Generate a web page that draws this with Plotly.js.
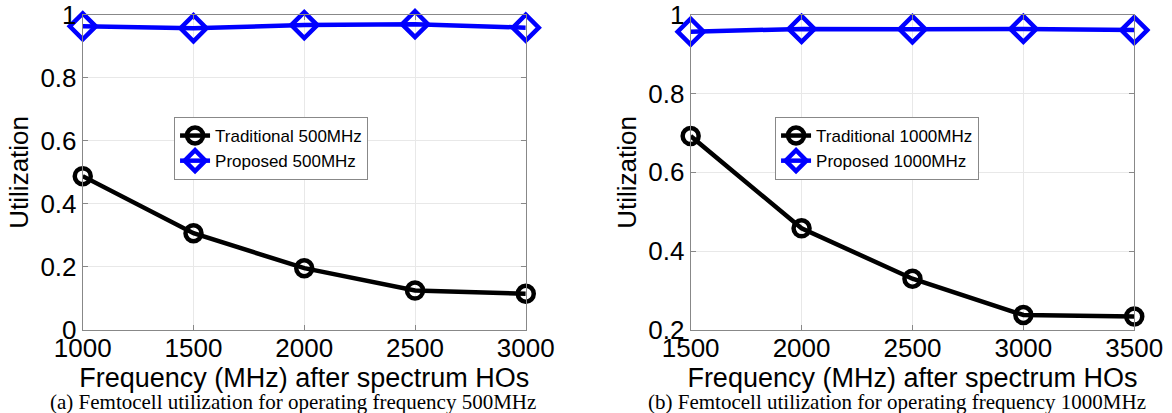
<!DOCTYPE html>
<html>
<head>
<meta charset="utf-8">
<script src="https://cdn.plot.ly/plotly-3.0.1.min.js"></script>
<style>
html,body{margin:0;padding:0;background:#fff;}
#chart{width:1172px;height:413px;}
</style>
</head>
<body>
<div id="chart"></div>
<script>
// Panel (a): operating frequency 500MHz
const freqA = [1000, 1500, 2000, 2500, 3000];
const traditionalA = [0.488, 0.307, 0.196, 0.125, 0.115];
const proposedA = [0.963, 0.957, 0.967, 0.970, 0.959];

// Panel (b): operating frequency 1000MHz
const freqB = [1500, 2000, 2500, 3000, 3500];
const traditionalB = [0.692, 0.458, 0.330, 0.238, 0.234];
const proposedB = [0.957, 0.964, 0.963, 0.964, 0.961];

// Tick labels
const yTicksA = [0, 0.2, 0.4, 0.6, 0.8, 1];
const yTickTextA = ["0", "0.2", "0.4", "0.6", "0.8", "1"];
const yTicksB = [0.2, 0.4, 0.6, 0.8, 1];
const yTickTextB = ["0.2", "0.4", "0.6", "0.8", "1"];

const namesA = ["Traditional 500MHz", "Proposed 500MHz"];
const namesB = ["Traditional 1000MHz", "Proposed 1000MHz"];
const xTitle = "Frequency (MHz) after spectrum HOs";
const yTitle = "Utilization";
const captionA = "(a) Femtocell utilization for operating frequency 500MHz";
const captionB = "(b) Femtocell utilization for operating frequency 1000MHz";

const SANS = "Liberation Sans, Arial, Helvetica, sans-serif";
const SERIF = "Liberation Serif, Times New Roman, serif";

function tradTrace(x, y, name, xa, ya, leg) {
  return {x: x, y: y, name: name, xaxis: xa, yaxis: ya, legend: leg,
    type: "scatter", mode: "lines+markers", cliponaxis: false,
    line: {color: "#000000", width: 4.5},
    marker: {symbol: "circle-open", size: 16, color: "#000000", line: {width: 4.5, color: "#000000"}}};
}
function propTrace(x, y, name, xa, ya, leg) {
  return {x: x, y: y, name: name, xaxis: xa, yaxis: ya, legend: leg,
    type: "scatter", mode: "lines+markers", cliponaxis: false,
    line: {color: "#0000ff", width: 4.5},
    marker: {symbol: "diamond-open", size: 20, color: "#0000ff", line: {width: 4.5, color: "#0000ff"}}};
}

const data = [
  tradTrace(freqA, traditionalA, namesA[0], "x", "y", "legend"),
  propTrace(freqA, proposedA, namesA[1], "x", "y", "legend"),
  tradTrace(freqB, traditionalB, namesB[0], "x2", "y2", "legend2"),
  propTrace(freqB, proposedB, namesB[1], "x2", "y2", "legend2")
];

function xAxis(domain, range, tickvals, anchor) {
  return {domain: domain, range: range, anchor: anchor,
    tickmode: "array", tickvals: tickvals, ticktext: tickvals.map(String),
    showgrid: true, gridcolor: "#e8e8e8", gridwidth: 1,
    showline: true, linecolor: "#888888", linewidth: 1, mirror: "ticks",
    ticks: "inside", ticklen: 5, tickcolor: "#888888",
    zeroline: false, automargin: false, ticklabelstandoff: -5,
    ticklabeloverflow: "allow",
    tickfont: {family: SANS, size: 26, color: "#000"},
    title: {text: xTitle, font: {family: SANS, size: 27, color: "#000"}, standoff: 0}};
}
function yAxis(domain, range, tickvals, ticktext, anchor) {
  return {domain: domain, range: range, anchor: anchor,
    tickmode: "array", tickvals: tickvals, ticktext: ticktext,
    showgrid: true, gridcolor: "#e8e8e8", gridwidth: 1,
    showline: true, linecolor: "#888888", linewidth: 1, mirror: "ticks",
    ticks: "inside", ticklen: 5, tickcolor: "#888888",
    zeroline: false, automargin: false, ticklabeloverflow: "allow",
    tickfont: {family: SANS, size: 26, color: "#000"},
    title: {text: yTitle, font: {family: SANS, size: 26, color: "#000"}, standoff: 4}};
}

const legendStyle = {
  bgcolor: "#ffffff", bordercolor: "#888888", borderwidth: 1,
  font: {family: SANS, size: 17, color: "#000"},
  xanchor: "left", yanchor: "top", tracegroupgap: 0, itemwidth: 30
};

const layout = {
  width: 1172, height: 413,
  margin: {l: 0, r: 0, t: 0, b: 0},
  paper_bgcolor: "#ffffff", plot_bgcolor: "#ffffff",
  showlegend: true,
  xaxis: xAxis([0.0706, 0.4486], [1000, 3000], freqA, "y"),
  yaxis: yAxis([0.2010, 0.9644], [0, 1], yTicksA, yTickTextA, "x"),
  xaxis2: xAxis([0.5893, 0.9678], [1500, 3500], freqB, "y2"),
  yaxis2: yAxis([0.2010, 0.9644], [0.2, 1], yTicksB, yTickTextB, "x2"),
  legend: Object.assign({x: 0.1485, y: 0.7167}, legendStyle),
  legend2: Object.assign({x: 0.6613, y: 0.7167}, legendStyle),
  annotations: [
    {text: captionA, xref: "paper", yref: "paper", x: 0.2496, y: 0.0266,
     xanchor: "center", yanchor: "middle", showarrow: false,
     font: {family: SERIF, size: 21, color: "#000"}},
    {text: captionB, xref: "paper", yref: "paper", x: 0.7651, y: 0.0266,
     xanchor: "center", yanchor: "middle", showarrow: false,
     font: {family: SERIF, size: 21, color: "#000"}}
  ]
};

Plotly.newPlot("chart", data, layout, {staticPlot: true, displayModeBar: false});
</script>
</body>
</html>
